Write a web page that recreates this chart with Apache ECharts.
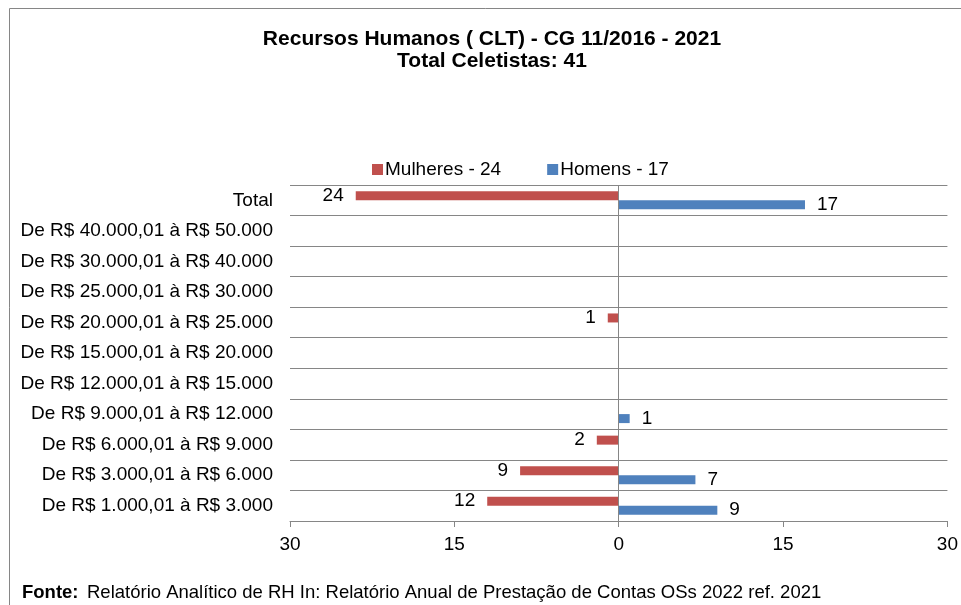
<!DOCTYPE html>
<html><head><meta charset="utf-8">
<script src="https://cdn.jsdelivr.net/npm/echarts@6/dist/echarts.min.js"></script>
<style>html,body{margin:0;padding:0;background:#fff;overflow:hidden}#c{width:961px;height:605px}</style>
</head><body><div id="c"></div>
<script>
// Categories from top to bottom
const categories = [
  'Total',
  'De R$ 40.000,01 à R$ 50.000',
  'De R$ 30.000,01 à R$ 40.000',
  'De R$ 25.000,01 à R$ 30.000',
  'De R$ 20.000,01 à R$ 25.000',
  'De R$ 15.000,01 à R$ 20.000',
  'De R$ 12.000,01 à R$ 15.000',
  'De R$ 9.000,01 à R$ 12.000',
  'De R$ 6.000,01 à R$ 9.000',
  'De R$ 3.000,01 à R$ 6.000',
  'De R$ 1.000,01 à R$ 3.000'
];
const mulheres = [24, 0, 0, 0, 1, 0, 0, 0, 2, 9, 12];
const homens   = [17, 0, 0, 0, 0, 0, 0, 1, 0, 7, 9];
const xTicks = [-30, -15, 0, 15, 30];
const seriesNames = ['Mulheres - 24', 'Homens - 17'];

const FONT = 'Liberation Sans, Arial, sans-serif';
const FS = 19;
const chart = echarts.init(document.getElementById('c'));
chart.setOption({
  animation: false,
  backgroundColor: '#fff',
  textStyle: { fontFamily: FONT },
  title: {
    text: 'Recursos Humanos ( CLT) - CG 11/2016 - 2021\nTotal Celetistas: 41',
    left: 487, top: 23, textAlign: 'center',
    textStyle: { fontFamily: FONT, fontSize: 21, fontWeight: 'bold', color: '#000', lineHeight: 22 }
  },
  legend: {
    top: 155, left: 367,
    itemWidth: 11, itemHeight: 11, itemGap: 46,
    icon: 'rect',
    textStyle: { fontFamily: FONT, fontSize: FS, color: '#000', padding: [0, 0, 0, -3] },
    data: seriesNames
  },
  grid: { left: 290, right: 8, top: 185, bottom: 84, containLabel: false },
  xAxis: {
    type: 'value', min: -30, max: 30, interval: 15,
    axisLine: { show: true, lineStyle: { color: '#868686', width: 1 } },
    axisTick: { show: true, length: 6, lineStyle: { color: '#868686' } },
    splitLine: { show: false },
    axisLabel: { fontFamily: FONT, fontSize: FS, color: '#000', margin: 14, formatter: v => String(Math.abs(v)) }
  },
  yAxis: {
    type: 'category', data: categories, inverse: true,
    axisLine: { show: false },
    axisTick: { show: true, length: 7, lineStyle: { color: '#868686' } },
    splitLine: { show: true, lineStyle: { color: '#868686', width: 1 } },
    axisLabel: { fontFamily: FONT, fontSize: FS, color: '#000', margin: 17 }
  },
  series: [
    {
      name: seriesNames[0], type: 'bar',
      data: mulheres.map(v => v ? -v : null),
      barWidth: 9, barGap: '0%',
      itemStyle: { color: '#C0504D' },
      label: { show: true, position: 'left', distance: 12, fontFamily: FONT, fontSize: FS, color: '#000',
        formatter: p => String(Math.abs(p.value)) },
      markLine: {
        silent: true, symbol: 'none', label: { show: false },
        lineStyle: { color: '#868686', type: 'solid', width: 1 },
        data: [{ xAxis: 0 }]
      }
    },
    {
      name: seriesNames[1], type: 'bar',
      data: homens.map(v => v ? v : null),
      barWidth: 9, barGap: '0%',
      itemStyle: { color: '#4F81BD' },
      label: { show: true, position: 'right', distance: 12, fontFamily: FONT, fontSize: FS, color: '#000',
        formatter: p => String(p.value) }
    }
  ],
  graphic: [
    { type: 'rect', shape: { x: 9.5, y: 8.5, width: 1000, height: 700 }, style: { fill: 'none', stroke: '#868686', lineWidth: 1 }, silent: true, z: -1 },
    { type: 'text', left: 22, top: 583, style: { text: 'Fonte:', font: 'bold 18.5px ' + FONT, fill: '#000' } },
    { type: 'text', left: 87, top: 583, style: { text: 'Relatório Analítico de RH In: Relatório Anual de Prestação de Contas OSs 2022 ref. 2021', font: '18.5px ' + FONT, fill: '#000' } }
  ]
});
</script></body></html>
